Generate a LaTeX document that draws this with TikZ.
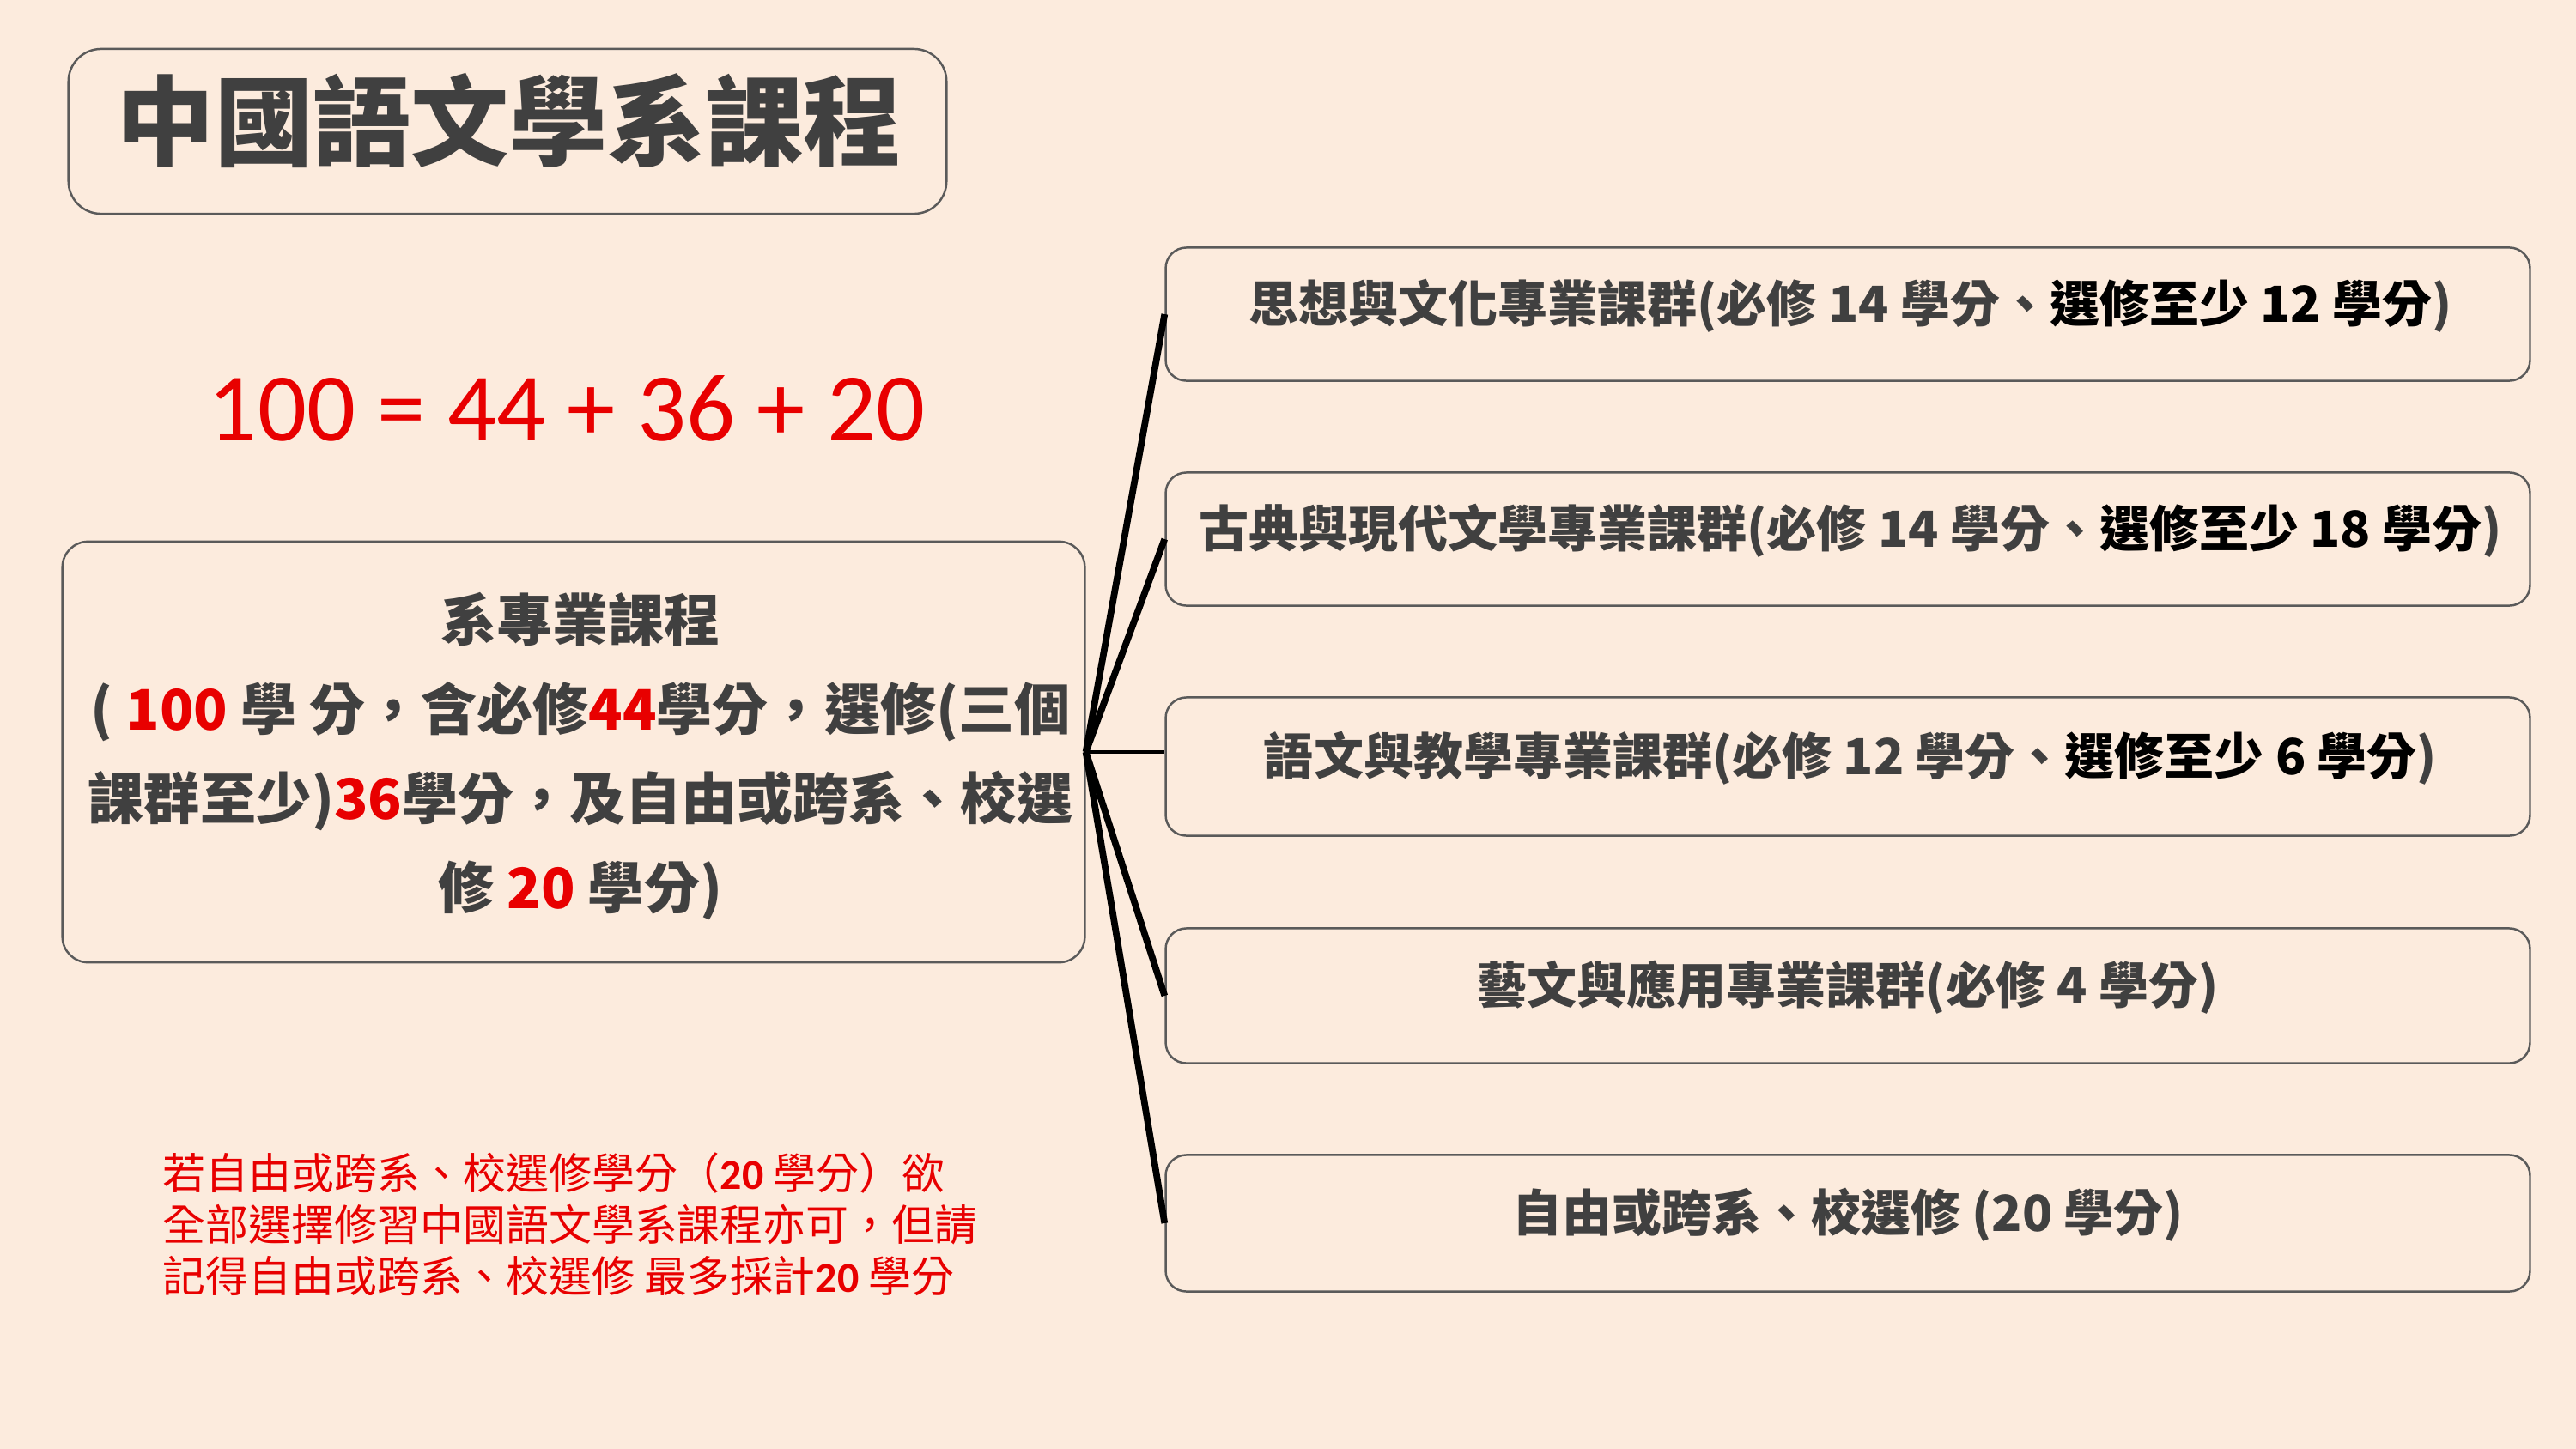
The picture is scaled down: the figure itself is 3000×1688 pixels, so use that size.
\documentclass[tikz,border=0pt]{standalone}
\usepackage{fontspec}
\setmainfont{Noto Sans CJK TC}
\newfontfamily\eqfont{Carlito}
\definecolor{bg}{RGB}{252,235,221}
\definecolor{txt}{RGB}{64,64,64}
\definecolor{edge}{RGB}{90,90,90}
\definecolor{hred}{RGB}{232,0,0}
\begin{document}
\begin{tikzpicture}[x=0.01cm,y=-0.01cm,
  frame/.style={draw=edge, line width=0.7pt, inner sep=0pt},
  titlebox/.style={frame, rounded corners=0.38cm, minimum width=10.22cm, minimum height=1.92cm},
  leftbox/.style={frame, rounded corners=0.3cm, minimum width=11.9cm, minimum height=4.9cm},
  catbox/.style={frame, rounded corners=0.24cm, minimum width=15.88cm, minimum height=1.57cm},
  cattext/.style={text=txt, inner sep=0pt, font=\bfseries\fontsize{16.5}{20}\selectfont},
  conn/.style={draw=black, line width=2.2pt},
  connthin/.style={draw=black, line width=1.2pt}]
\fill[bg] (0,0) rectangle (3000,1688);
\useasboundingbox (0,0) rectangle (3000,1688);

% title
\node[titlebox] (tb) at (591,153) {};
\node[text=txt, inner sep=0pt, font=\bfseries\fontsize{32.5}{40}\selectfont] (tt) at (593,140) {中國語文學系課程};

% equation
\node[text=hred, inner sep=0pt, font=\eqfont\fontsize{32}{40}\selectfont] (eq) at (660,476) {100 = 44 + 36 + 20};

% left box
\node[leftbox] (l) at (668,876) {};
\node[text=txt, inner sep=0pt, align=center, font=\bfseries\fontsize{18.5}{29.6}\selectfont] (lt) at (676,881)
  {系專業課程\\( \textcolor{hred}{100} 學 分，含必修\textcolor{hred}{44}學分，選修(三個\\課群至少)\textcolor{hred}{36}學分，及自由或跨系、校選\\修 \textcolor{hred}{20} 學分)};

% right boxes
\node[catbox, minimum height=1.55cm] (b1) at (2152,366) {};
\node[catbox, minimum height=1.55cm] (b2) at (2152,628) {};
\node[catbox, minimum height=1.61cm] (b3) at (2152,893) {};
\node[catbox, minimum height=1.57cm] (b4) at (2152,1160) {};
\node[catbox, minimum height=1.59cm] (b5) at (2152,1425) {};

\node[cattext] (t1) at (2155,356) {思想與文化專業課群(必修 14 學分、\textcolor{black}{選修至少 12 學分})};
\node[cattext] (t2) at (2155,618) {古典與現代文學專業課群(必修 14 學分、\textcolor{black}{選修至少 18 學分})};
\node[cattext] (t3) at (2155,883) {語文與教學專業課群(必修 12 學分、\textcolor{black}{選修至少 6 學分})};
\node[cattext] (t4) at (2152,1150) {藝文與應用專業課群(必修 4 學分)};
\node[cattext] (t5) at (2152,1415) {自由或跨系、校選修 (20 學分)};

% connectors
\coordinate (hub) at (l.east);
\draw[conn] (hub) -- (b1.west);
\draw[conn] (hub) -- (b2.west);
\draw[connthin] (hub) -- (hub -| b3.west);
\draw[conn] (hub) -- (b4.west);
\draw[conn] (hub) -- (b5.west);

% note
\node[text=hred, inner sep=0pt, anchor=west, align=left, font=\fontsize{14.2}{17.1}\selectfont] (note) at (189,1426)
  {若自由或跨系、校選修學分（{\eqfont\bfseries 20} 學分）欲\\全部選擇修習中國語文學系課程亦可，但請\\記得自由或跨系、校選修 最多採計{\eqfont\bfseries 20} 學分};
\end{tikzpicture}
\end{document}
